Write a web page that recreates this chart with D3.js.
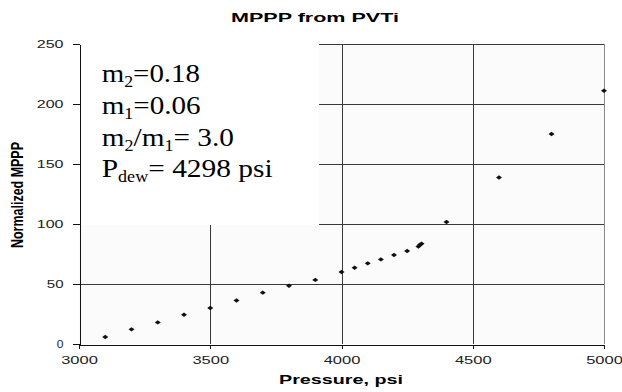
<!DOCTYPE html>
<html>
<head>
<meta charset="utf-8">
<script src="https://cdn.jsdelivr.net/npm/d3@7"></script>
<style>
  html, body { margin: 0; padding: 0; background: #fff; }
  svg { display: block; }
</style>
</head>
<body>
<svg id="chart" width="622" height="392"></svg>
<script>
// ---- data ----
const pressure = [3100, 3200, 3300, 3400, 3500, 3600, 3700, 3800, 3900, 4000, 4050, 4100, 4150, 4200, 4250, 4293, 4299, 4305, 4400, 4600, 4800, 5000];
const mppp     = [5.8, 12.2, 18, 24.4, 30, 36.3, 42.8, 48.6, 53.4, 60, 63.6, 67.2, 70.5, 74.2, 77.5, 81.3, 82.7, 83.6, 101.7, 138.8, 175, 211];
const xTicks = [3000, 3500, 4000, 4500, 5000];
const yTicks = [0, 50, 100, 150, 200, 250];
const chartTitle = "MPPP from PVTi";
const xTitle = "Pressure, psi";
const yTitle = "Normalized MPPP";
// annotation lines: [text, isSubscript]
const noteLines = [
  [["m", 0], ["2", 1], ["=0.18", 0]],
  [["m", 0], ["1", 1], ["=0.06", 0]],
  [["m", 0], ["2", 1], ["/m", 0], ["1", 1], ["= 3.0", 0]],
  [["P", 0], ["dew", 1], ["= 4298 psi", 0]]
];

const svg = d3.select("#chart");
const L = 79, R = 604, T = 44, B = 344;
const x = d3.scaleLinear().domain([3000, 5000]).range([L, R]);
const y = d3.scaleLinear().domain([0, 250]).range([B, T]);

// plot background
svg.append("rect").attr("x", L).attr("y", T).attr("width", R - L).attr("height", B - T).attr("fill", "#fbfbfb");

// gridlines
const grid = svg.append("g").attr("stroke", "#3a3a3a").attr("stroke-width", 1).attr("shape-rendering", "crispEdges");
grid.selectAll("line.h").data(yTicks.filter(d => d > 0)).join("line")
  .attr("x1", L).attr("x2", R).attr("y1", d => Math.round(y(d)) + 0.5).attr("y2", d => Math.round(y(d)) + 0.5);
grid.selectAll("line.v").data(xTicks.filter(d => d > 3000)).join("line")
  .attr("y1", T).attr("y2", B).attr("x1", d => Math.round(x(d)) + 0.5).attr("x2", d => Math.round(x(d)) + 0.5)
  .attr("stroke", d => d === 5000 ? "#8a8a8a" : "#3a3a3a");

// white text box covering the upper-left part of the grid
svg.append("rect").attr("x", L).attr("y", T - 1).attr("width", 319 - L).attr("height", 225 - T + 1).attr("fill", "#fff");

// axes
const fontSans = "'Liberation Sans', Arial, sans-serif";
const fmt = d3.format("d");
const yAxis = svg.append("g").attr("transform", `translate(${L + 0.5},0)`)
  .call(d3.axisLeft(y).tickValues(yTicks).tickFormat(fmt).tickSizeInner(7).tickSizeOuter(0).tickPadding(9));
const xAxis = svg.append("g").attr("transform", `translate(0,${B + 0.5})`)
  .call(d3.axisBottom(x).tickValues(xTicks).tickFormat(fmt).tickSizeInner(4).tickSizeOuter(0).tickPadding(8));
[yAxis, xAxis].forEach(a => {
  a.select(".domain").attr("stroke", "#111").attr("shape-rendering", "crispEdges");
  a.selectAll(".tick line").attr("stroke", "#111").attr("shape-rendering", "crispEdges");
  a.selectAll(".tick text")
    .attr("font-family", fontSans).attr("font-size", 10).attr("fill", "#222")
    .attr("textLength", function () { return this.textContent.length * 10 - 3.3; })
    .attr("lengthAdjust", "spacingAndGlyphs");
});

// markers
svg.append("g").selectAll("path").data(pressure).join("path")
  .attr("transform", (d, i) => `translate(${x(d)},${y(mppp[i])})`)
  .attr("d", "M-3,0L0,-2.2L3,0L0,2.2Z")
  .attr("fill", "#111");

// titles
svg.append("text").attr("x", 315).attr("y", 22).attr("text-anchor", "middle")
  .attr("font-family", fontSans).attr("font-weight", "bold").attr("font-size", 13)
  .attr("textLength", 168).attr("lengthAdjust", "spacingAndGlyphs").text(chartTitle);
svg.append("text").attr("x", 341).attr("y", 384).attr("text-anchor", "middle")
  .attr("font-family", fontSans).attr("font-weight", "bold").attr("font-size", 13)
  .attr("textLength", 124).attr("lengthAdjust", "spacingAndGlyphs").text(xTitle);
svg.append("text").attr("transform", "translate(23.3,195) rotate(-90)").attr("text-anchor", "middle")
  .attr("font-family", fontSans).attr("font-weight", "bold").attr("font-size", 16)
  .attr("textLength", 106).attr("lengthAdjust", "spacingAndGlyphs").text(yTitle);

// annotation
const noteX = 101.7;
const noteBase = [81.7, 114, 146, 176.7];
const noteW = [98.3, 99, 132.3, 171];
noteLines.forEach((parts, li) => {
  const t = svg.append("text")
    .attr("font-family", "'Liberation Serif', 'Times New Roman', serif")
    .attr("font-size", 26).attr("fill", "#000");
  let sub = false;
  parts.forEach(([s, isSub]) => {
    const ts = t.append("tspan").text(s);
    if (isSub && !sub) { ts.attr("dy", 5).attr("font-size", 16); sub = true; }
    else if (isSub) { ts.attr("font-size", 16); }
    else if (!isSub && sub) { ts.attr("dy", -5); sub = false; }
  });
  const w = t.node().getBBox().width;
  t.attr("transform", `translate(${noteX},${noteBase[li]}) scale(${noteW[li] / w},1)`);
});
</script>
</body>
</html>
